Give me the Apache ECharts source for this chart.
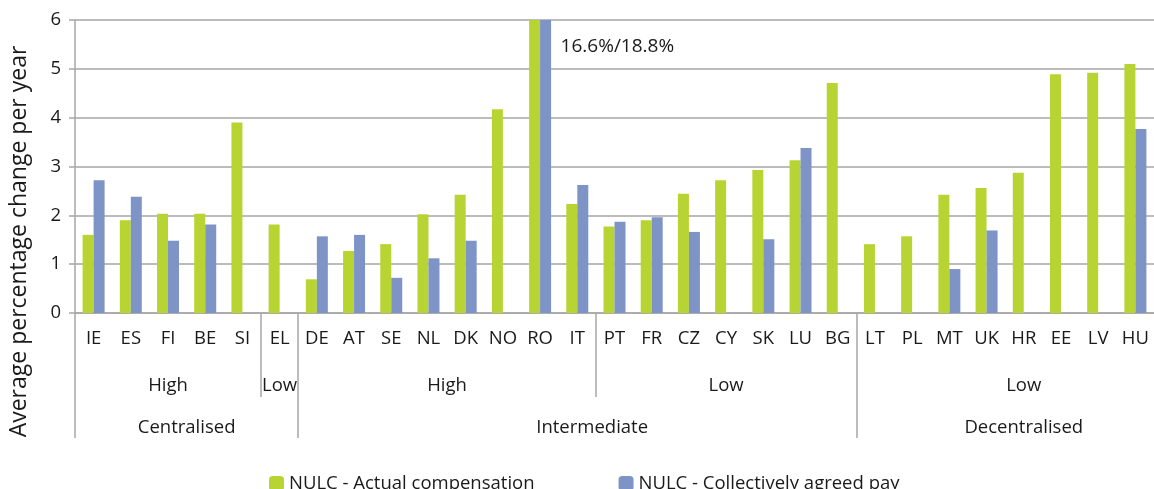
<!DOCTYPE html>
<html>
<head>
<meta charset="utf-8">
<script src="https://cdn.jsdelivr.net/npm/echarts@6/dist/echarts.min.js"></script>
<style>
html,body{margin:0;padding:0;background:#fff;}
#chart{width:1154px;height:489px;}
</style>
</head>
<body>
<div id="chart"></div>
<script>
var countries = ['IE','ES','FI','BE','SI','EL','DE','AT','SE','NL','DK','NO','RO','IT','PT','FR','CZ','CY','SK','LU','BG','LT','PL','MT','UK','HR','EE','LV','HU'];
var actual_comp = [1.60,1.90,2.03,2.03,3.90,1.81,0.69,1.27,1.41,2.02,2.42,4.17,16.6,2.23,1.77,1.90,2.44,2.72,2.93,3.13,4.71,1.41,1.57,2.42,2.56,2.87,4.89,4.92,5.10];
var agreed_pay = [2.72,2.38,1.48,1.81,null,null,1.57,1.60,0.72,1.12,1.48,null,18.8,2.62,1.87,1.96,1.66,-0.04,1.51,3.38,null,null,null,0.90,1.69,null,null,null,3.77];
var ro_note = '16.6%/18.8%';

// groups, given as category edges (start, end)
var level2_names = ['High','Low','High','Low','Low'];
var level2_edges = [[0,5],[5,6],[6,14],[14,21],[21,30]];
var level3_names = ['Centralised','Intermediate','Decentralised'];
var level3_edges = [[0,6],[6,21],[21,30]];

var font = 'Open Sans';
var green = '#b8d433';
var blue = '#7f94c6';

function centers(edges){
	var out = [];
	for(var i=0;i<edges.length;i++){ out.push((edges[i][0]+edges[i][1])/2); }
	return out;
}
function bounds(edges){
	var out = [];
	for(var i=0;i<edges.length;i++){
		if(out.indexOf(edges[i][0]) < 0) out.push(edges[i][0]);
		if(edges[i][1] <= countries.length && out.indexOf(edges[i][1]) < 0) out.push(edges[i][1]);
	}
	return out;
}
var l2_pos = centers(level2_edges);
var l3_pos = centers(level3_edges);
// Excel centres the "Intermediate" label a little off the middle
l3_pos[1] = 13.9;

function group_axis(pos, names, edges, tick_len, margin){
	return {
		type:'value',
		position:'bottom',
		min:0,
		max:countries.length,
		axisLine:{show:false},
		splitLine:{show:false},
		axisTick:{
			show:true,
			customValues:bounds(edges),
			length:tick_len,
			lineStyle:{color:'#a6a6a6',width:1.5}
		},
		axisLabel:{
			customValues:pos,
			margin:margin,
			fontFamily:font,
			fontSize:18.5,
			color:'#1a1a1a',
			formatter:function(v){
				var i = pos.indexOf(v);
				return i >= 0 ? names[i] : '';
			}
		}
	};
}

var myChart = echarts.init(document.getElementById('chart'));
myChart.setOption({
	animation:false,
	textStyle:{fontFamily:font},
	grid:{left:74, right:-12, top:20, bottom:176, containLabel:false},
	legend:{
		left:264,
		top:469,
		itemWidth:15,
		itemHeight:15,
		itemGap:84,
		textStyle:{fontFamily:font, fontSize:18.5, color:'#1a1a1a'},
		data:['NULC - Actual compensation','NULC - Collectively agreed pay']
	},
	xAxis:[
	{
		type:'category',
		position:'bottom',
		data:countries,
		axisLine:{lineStyle:{color:'#a6a6a6',width:1.5}},
		axisTick:{interval:0, length:40, lineStyle:{color:'#c0c0c0',width:1.5}},
		axisLabel:{interval:0, margin:16, fontFamily:font, fontSize:18.5, color:'#1a1a1a'}
	},
	group_axis(l2_pos, level2_names, level2_edges, 84, 63),
	group_axis(l3_pos, level3_names, level3_edges, 125, 105)
	],
	yAxis:{
		type:'value',
		min:0,
		max:6,
		interval:1,
		name:'Average percentage change per year',
		nameLocation:'middle',
		nameGap:44,
		nameTextStyle:{fontFamily:font, fontSize:23, color:'#1a1a1a', padding:[0,150,0,0]},
		axisLine:{show:true, lineStyle:{color:'#a6a6a6',width:1.5}},
		axisTick:{show:true, length:6, lineStyle:{color:'#a6a6a6',width:1.5}},
		axisLabel:{margin:14, fontFamily:font, fontSize:18.5, color:'#1a1a1a'},
		splitLine:{lineStyle:{color:'#a6a6a6',width:1.5}}
	},
	series:[
	{
		name:'NULC - Actual compensation',
		type:'bar',
		data:actual_comp,
		barWidth:11,
		barGap:'0%',
		clip:true,
		itemStyle:{color:green}
	},
	{
		name:'NULC - Collectively agreed pay',
		type:'bar',
		data:agreed_pay,
		barWidth:11,
		barGap:'0%',
		clip:true,
		itemStyle:{color:blue},
		markPoint:{
			symbol:'circle',
			symbolSize:0,
			label:{
				show:true,
				position:'right',
				distance:15,
				formatter:ro_note,
				fontFamily:font,
				fontSize:19,
				color:'#1a1a1a'
			},
			data:[{coord:['RO', 5.45]}]
		}
	}
	]
});
</script>
</body>
</html>
